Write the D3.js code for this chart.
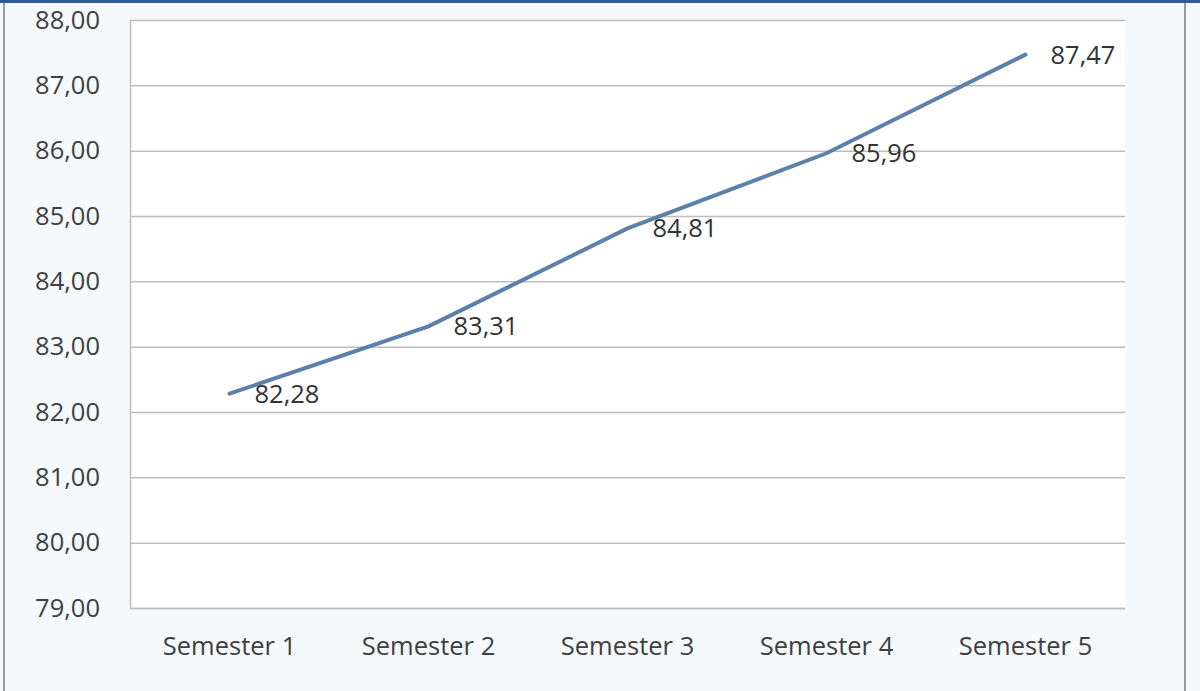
<!DOCTYPE html>
<html>
<head>
<meta charset="utf-8">
<script src="https://cdn.jsdelivr.net/npm/d3@7"></script>
<style>
  body { margin: 0; background: #f6f9fc; }
  svg { display: block; }
</style>
</head>
<body>
<div id="chart"></div>
<script>
// Chart data
const categories = ['Semester 1', 'Semester 2', 'Semester 3', 'Semester 4', 'Semester 5'];
const values = [82.28, 83.31, 84.81, 85.96, 87.47];
const yTicks = [79, 80, 81, 82, 83, 84, 85, 86, 87, 88];

const width = 1200;
const height = 691;
const plot = { left: 130, right: 1125, top: 20, bottom: 608 };

const svg = d3.select('#chart')
    .append('svg')
    .attr('width', width)
    .attr('height', height);

// Frame: blue top strip, grey side borders
svg.append('rect').attr('x', 0).attr('y', 0).attr('width', width).attr('height', height).attr('fill', '#f6f9fc');
svg.append('rect').attr('x', 0).attr('y', 0).attr('width', width).attr('height', 3).attr('fill', '#2b5c92');
svg.append('line').attr('x1', 4).attr('x2', 4).attr('y1', 3).attr('y2', height).attr('stroke', '#9a9a9a').attr('stroke-width', 2);
svg.append('line').attr('x1', 1185).attr('x2', 1185).attr('y1', 3).attr('y2', height).attr('stroke', '#9a9a9a').attr('stroke-width', 2);

// Plot area
svg.append('rect')
    .attr('x', plot.left).attr('y', plot.top)
    .attr('width', plot.right - plot.left).attr('height', plot.bottom - plot.top)
    .attr('fill', '#ffffff');

// Scales
const xScale = d3.scaleBand()
    .domain(categories)
    .range([plot.left, plot.right]);

const yScale = d3.scaleLinear()
    .domain([79, 88])
    .range([plot.bottom, plot.top]);

const font = "'Open Sans', sans-serif";
const fontSize = 25.5;

// Gridlines
svg.append('g')
    .attr('transform', `translate(${plot.left}, 0)`)
    .call(d3.axisLeft(yScale).tickValues(yTicks).tickFormat('').tickSize(-(plot.right - plot.left)))
    .call(g => g.select('.domain').remove())
    .call(g => g.selectAll('line').attr('stroke', '#bdbdbd').attr('stroke-width', 1.5));

// Y axis
svg.append('g')
    .attr('transform', `translate(${plot.left}, 0)`)
    .call(d3.axisLeft(yScale).tickValues(yTicks).tickSize(0).tickPadding(30)
        .tickFormat(d => d3.format('.2f')(d).replace('.', ',')))
    .call(g => g.select('.domain').attr('stroke', '#bdbdbd').attr('stroke-width', 1.5))
    .call(g => g.selectAll('text').attr('font-family', font).attr('font-size', fontSize).attr('fill', '#404040'));

// X axis
svg.append('g')
    .attr('transform', `translate(0, ${plot.bottom})`)
    .call(d3.axisBottom(xScale).tickSize(0).tickPadding(29))
    .call(g => g.select('.domain').attr('stroke', '#bdbdbd').attr('stroke-width', 1.5))
    .call(g => g.selectAll('text').attr('font-family', font).attr('font-size', fontSize).attr('fill', '#404040'));

// Line
const cx = d => xScale(d) + xScale.bandwidth() / 2;
const line = d3.line()
    .x((d, i) => cx(categories[i]))
    .y(d => yScale(d));

svg.append('path')
    .datum(values)
    .attr('fill', 'none')
    .attr('stroke', '#5b80a9')
    .attr('stroke-width', 4)
    .attr('stroke-linecap', 'round')
    .attr('d', line);

// Data labels
svg.append('g')
    .selectAll('text')
    .data(values)
    .join('text')
    .attr('x', (d, i) => cx(categories[i]) + 25)
    .attr('y', d => yScale(d))
    .attr('dy', '0.35em')
    .attr('font-family', font)
    .attr('font-size', fontSize)
    .attr('fill', '#333333')
    .text(d => d3.format('.2f')(d).replace('.', ','));
</script>
</body>
</html>
